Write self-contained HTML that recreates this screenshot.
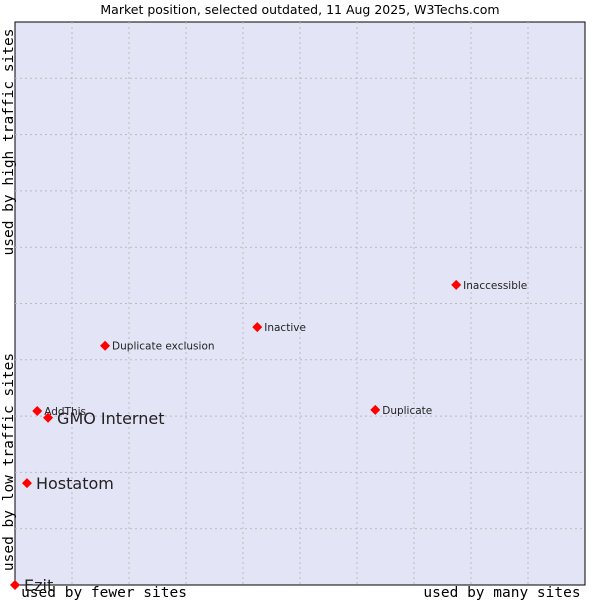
<!DOCTYPE html>
<html><head><meta charset="utf-8"><style>
body{margin:0;background:#fff;}
svg{display:block;}
</style></head><body>
<svg width="600" height="600" xmlns="http://www.w3.org/2000/svg">
<text x="300" y="14" text-anchor="middle" font-family="DejaVu Sans, sans-serif" font-size="12.5" fill="#000">Market position, selected outdated, 11 Aug 2025, W3Techs.com</text>
<rect x="15" y="22" width="570" height="563" fill="#e4e4f7" stroke="#000" stroke-width="1"/>
<g id="grid"></g>
<text x="104" y="597" text-anchor="middle" font-family="DejaVu Sans Mono, monospace" font-size="14.5">used by fewer sites</text>
<text x="502" y="597" text-anchor="middle" font-family="DejaVu Sans Mono, monospace" font-size="14.5">used by many sites</text>
<text transform="translate(13,462) rotate(-90)" text-anchor="middle" font-family="DejaVu Sans Mono, monospace" font-size="14.5">used by low traffic sites</text>
<text transform="translate(13,142) rotate(-90)" text-anchor="middle" font-family="DejaVu Sans Mono, monospace" font-size="14.5">used by high traffic sites</text>
<g id="points"></g>
</svg>
<script>
const names = ["Ezit","Hostatom","GMO Internet","AddThis","Duplicate exclusion","Inactive","Duplicate","Inaccessible"];
const xValues = [0, 0.21, 0.58, 0.39, 1.58, 4.25, 6.32, 7.74];
const yValues = [0, 1.81, 2.97, 3.09, 4.25, 4.58, 3.11, 5.33];
const bigLabel = [true, true, true, false, false, false, false, false];
const ns = "http://www.w3.org/2000/svg";
const L=15,R=585,T=22,B=585;
function sx(v){return L+v/10*(R-L);}
function sy(v){return B-v/10*(B-T);}
const grid=document.getElementById('grid');
for(let i=1;i<10;i++){
  const v=document.createElementNS(ns,'line');
  v.setAttribute('x1',sx(i));v.setAttribute('x2',sx(i));v.setAttribute('y1',T);v.setAttribute('y2',B);
  v.setAttribute('stroke','#bbb');v.setAttribute('stroke-dasharray','2,3');
  
  
  grid.appendChild(v);
  const h=document.createElementNS(ns,'line');
  h.setAttribute('y1',sy(i));h.setAttribute('y2',sy(i));h.setAttribute('x1',L);h.setAttribute('x2',R);
  h.setAttribute('stroke','#bbb');h.setAttribute('stroke-dasharray','2,3');
  
  
  grid.appendChild(h);
}
const pts=document.getElementById('points');
for(let i=0;i<names.length;i++){
  const x=sx(xValues[i]),y=sy(yValues[i]);
  const d=document.createElementNS(ns,'path');
  d.setAttribute('d',`M${x},${y-5}L${x+5},${y}L${x},${y+5}L${x-5},${y}Z`);
  d.setAttribute('fill','#f00');
  
  
  pts.appendChild(d);
  const t=document.createElementNS(ns,'text');
  t.setAttribute('x',x+(bigLabel[i]?9:7));
  t.setAttribute('y',y+(bigLabel[i]?6:4));
  t.setAttribute('font-family','DejaVu Sans, sans-serif');
  t.setAttribute('font-size',bigLabel[i]?'16':'10.5');
  t.setAttribute('fill','#222');
  t.textContent=names[i];
  
  
  pts.appendChild(t);
}
</script>
</body></html>
